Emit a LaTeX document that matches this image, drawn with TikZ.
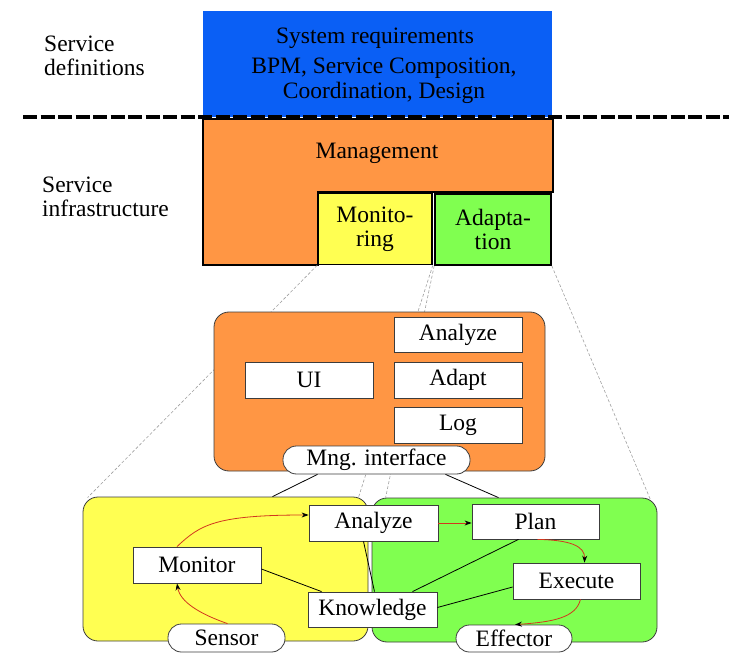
\documentclass[tikz,border=0pt]{standalone}
\usepackage{fontspec}
\setmainfont{Liberation Serif}
\usetikzlibrary{arrows.meta,calc}

\definecolor{reqblue}{RGB}{10,95,245}
\definecolor{mgmtorange}{RGB}{255,150,68}
\definecolor{monyellow}{RGB}{255,255,82}
\definecolor{adagreen}{RGB}{128,255,80}
\definecolor{boxline}{RGB}{60,60,60}
\definecolor{flowred}{RGB}{210,55,30}

\begin{document}
\begin{tikzpicture}[x=1pt,y=-1pt,
  every node/.style={font=\fontsize{23.5}{24}\selectfont, inner sep=0pt},
  box/.style={draw=boxline, line width=0.8pt, fill=white,
              minimum width=128pt, minimum height=36pt},
  pill/.style={box, rounded corners=13.5pt},
  panel/.style={draw=boxline, line width=0.8pt, rounded corners=15pt},
  layerbox/.style={draw=black, line width=1.6pt, align=center},
  guide/.style={gray!75, line width=0.6pt, dash pattern=on 3pt off 2pt},
  link/.style={black, line width=0.8pt},
  flow/.style={draw=flowred, line width=0.8pt,
               -{Stealth[black,length=7pt,width=5pt]}},
]
\useasboundingbox (0,0) rectangle (729,666);

% ---------- layer labels ----------
\node[anchor=west, align=left] (lbldef) at (44,55.5) {Service\\definitions};
\node[anchor=west, align=left] (lblinf) at (42,196.5) {Service\\infrastructure};

% ---------- service definitions layer ----------
\node[fill=reqblue, minimum width=349pt, minimum height=106pt] (req) at (377.5,64) {};
\node (reqtitle) at (375,38) {System requirements};
\node[align=center, font=\fontsize{23.5}{25}\selectfont] (reqtext) at (384,81)
  {BPM, Service Composition,\\Coordination, Design};

% ---------- service infrastructure layer ----------
\draw[fill=mgmtorange, draw=black, line width=1.6pt]
  (203,119) -- (553,119) -- (553,192) -- (318,192) -- (318,265) -- (203,265) -- cycle;
\node (mgmt) at (377,153) {Management};
\node[layerbox, fill=monyellow, minimum width=114pt, minimum height=71pt] (mtr) at (375,229) {Monito-\\ring};
\node[layerbox, fill=adagreen, minimum width=116pt, minimum height=71pt] (adt) at (493,229.5) {Adapta-\\tion};

% separator between the two layers
\draw[black, line width=4pt, dash pattern=on 14pt off 3.5pt] (23,117) -- (729,117);

% ---------- detail panels ----------
\node[panel, fill=monyellow, minimum width=285pt, minimum height=144pt] (ypanel) at (225.5,569) {};
\node[panel, fill=adagreen, minimum width=285pt, minimum height=144pt] (gpanel) at (514.5,570) {};

% zoom guides from the layer boxes to their detail panels
\draw[guide] (mtr.south west) -- ($(ypanel.north west)+(5,1)$);
\draw[guide] (mtr.south east) -- ($(ypanel.north east)+(-10,1)$);
\draw[guide] (adt.south west) -- ($(gpanel.north west)+(14,0)$);
\draw[guide] (adt.south east) -- ($(gpanel.north east)+(-7,2)$);

% management panel, drawn over the guides passing behind it
\node[panel, fill=mgmtorange, minimum width=331pt, minimum height=159pt] (mpanel) at (379.5,391.5) {};

% management components
\node[box, minimum height=35pt] (manz) at (458,334.5) {Analyze};
\node[box] (ui) at (309,380) {UI};
\node[box] (madp) at (458,380) {Adapt};
\node[box] (mlog) at (458,425) {Log};
\node[pill, minimum width=187pt, minimum height=28pt] (mng) at (376.5,460) {Mng. interface};

% management interface to the monitoring and adaptation panels
\draw[link] ($(mng.south)+(-59,0)$) -- ($(ypanel.north)+(47,0)$);
\draw[link] ($(mng.south)+(69,0)$) -- ($(gpanel.north)+(-16,0)$);

% ---------- MAPE-K loop ----------
\node[box, minimum width=129pt] (anl) at (373.5,523) {Analyze};
\node[box, minimum width=127pt, minimum height=35pt] (pln) at (535.5,521.5) {Plan};
\node[box] (mon) at (197,565) {Monitor};
\node[box, minimum width=127pt] (exe) at (576.5,581) {Execute};
\node[box, minimum width=129pt, minimum height=35pt] (knw) at (372.5,609.5) {Knowledge};
\node[pill, minimum width=117pt, minimum height=28pt] (sen) at (226.5,638) {Sensor};
\node[pill, minimum width=116pt, minimum height=27pt] (eff) at (514,638.5) {Effector};

% knowledge links
\draw[link] ($(mon.east)+(0,4)$) -- ($(knw.north west)+(14,0)$);
\draw[link] ($(anl.south)+(-10,0)$) -- ($(knw.north)+(2,0)$);
\draw[link] ($(pln.south)+(-17,0)$) -- ($(knw.north)+(40,0)$);
\draw[link] ($(exe.west)+(0,6)$) -- ($(knw.east)+(0,-2)$);

% control flow
\draw[flow] ($(mon.north)+(-20,0)$) .. controls (200,525) and (215,515) .. ($(anl.west)+(0,-8)$);
\draw[flow] (anl.east) -- (pln.west |- anl.east);
\draw[flow] ($(pln.south)+(2,0)$) .. controls (570,540) and (585,546) .. ($(exe.north)+(8,0)$);
\draw[flow] ($(exe.south)+(4,0)$) .. controls (576,618) and (552,622) .. ($(eff.north)+(1,0)$);
\draw[flow] ($(sen.north)+(1,0)$) .. controls (200,614) and (180,602) .. ($(mon.south)+(-20,0)$);

\end{tikzpicture}
\end{document}
